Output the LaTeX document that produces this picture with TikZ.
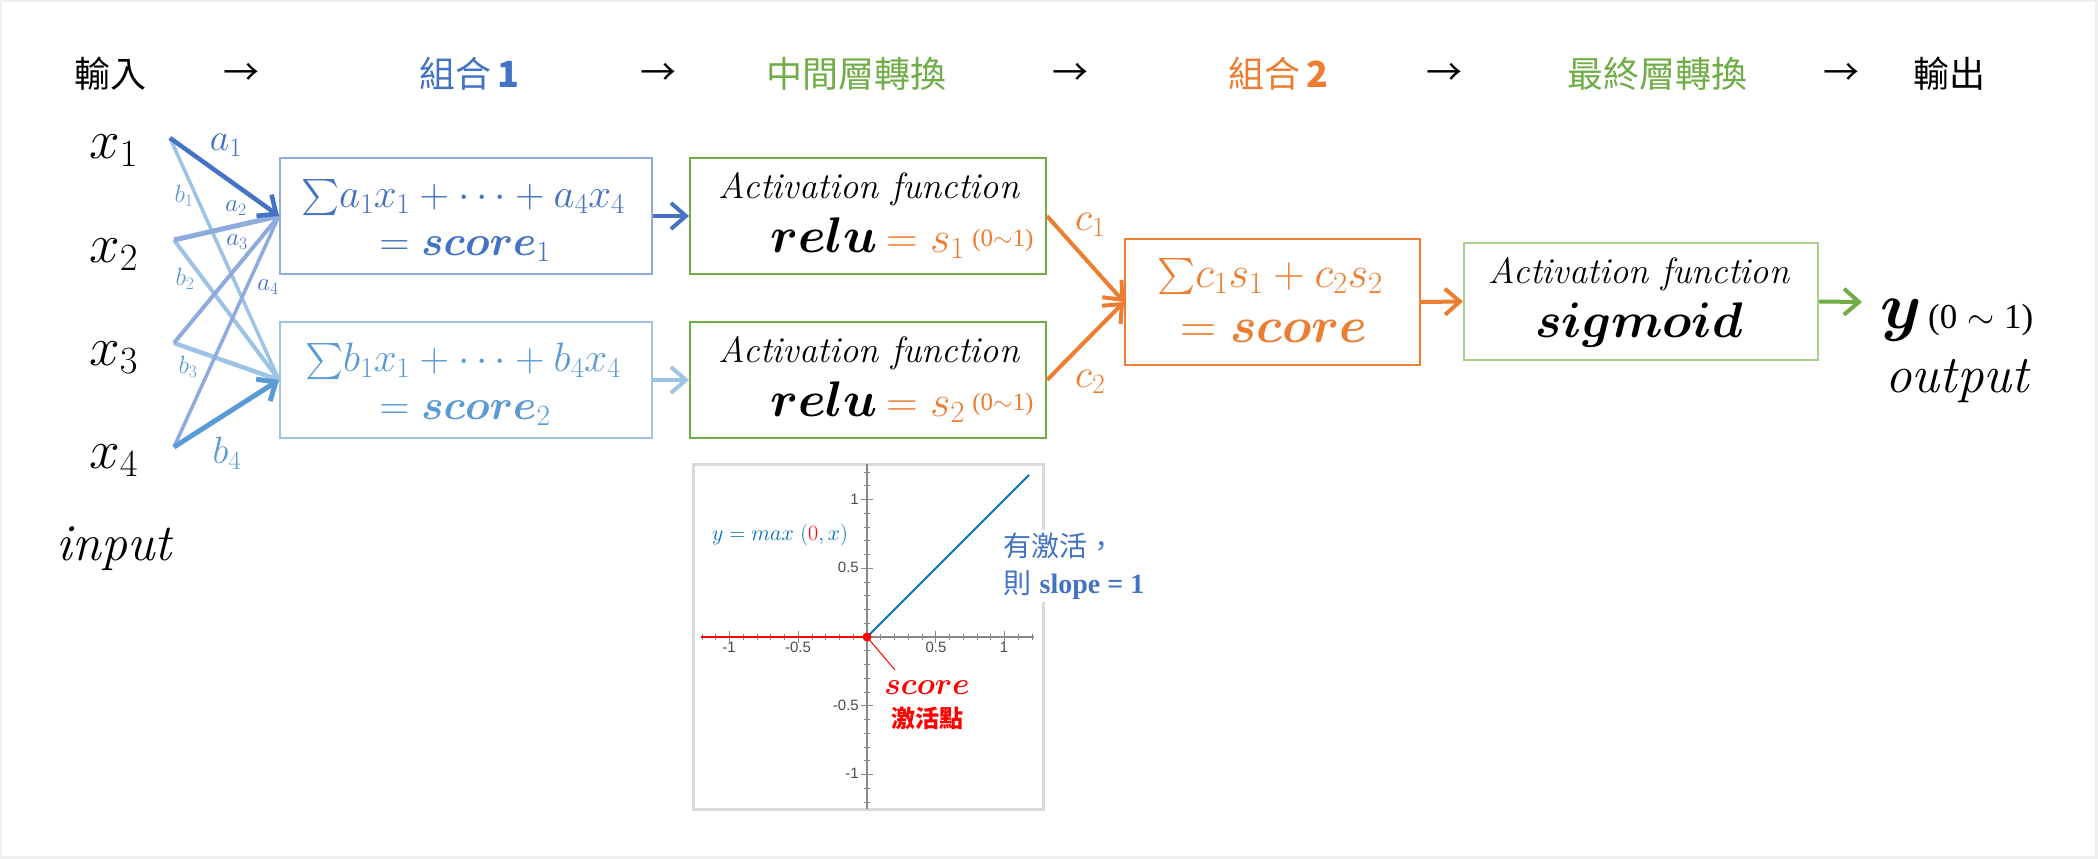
\RequirePackage{fix-cm}
\documentclass[tikz,border=0pt]{standalone}
\usepackage{fontspec}
\usepackage{amsmath}
\usepackage{bm}
\usepackage{graphicx}
\usetikzlibrary{arrows.meta}
\newfontfamily\cjk{Noto Sans CJK TC}
\newfontfamily\sansf{Liberation Sans}
\newfontfamily\serif{Liberation Serif}
\newcommand\fsz[1]{\fontsize{#1}{#1}\selectfont}
\newcommand\bigsum{\raisebox{-0.12em}{\scalebox{1.45}{$\sum$}}}
\definecolor{dblue}{HTML}{4472C4}
\definecolor{mblue}{HTML}{5B9BD5}
\definecolor{lblue}{HTML}{9DC3E6}
\definecolor{pblue}{HTML}{8FAADC}
\definecolor{cgreen}{HTML}{70AD47}
\definecolor{lgreen}{HTML}{A9D18E}
\definecolor{corange}{HTML}{ED7D31}
\definecolor{gblue}{HTML}{0070C0}
\definecolor{framegray}{HTML}{EFEFEF}
\definecolor{plotframe}{HTML}{D9D9D9}
\definecolor{axisc}{HTML}{888888}
\begin{document}
\begin{tikzpicture}[x=1pt,y=-1pt,
  bx/.style={draw,line width=2pt,inner sep=0pt},
  conn/.style={line width=4pt},
  tipv/.style={-{Straight Barb[length=15pt,width=26pt]}},
  lbl/.style={inner sep=0pt},
  hdr/.style={inner sep=0pt,font=\cjk\fsz{36}},
  tickl/.style={inner sep=0pt,font=\sansf\fsz{15},text=black!70},
  axisl/.style={draw=axisc,line width=1.5pt},
  tickm/.style={draw=axisc,line width=1pt},
]
\useasboundingbox (0,0) rectangle (2098,859);
\fill[framegray] (0,0) rectangle (2098,859);
\fill[white] (2,2) rectangle (2095,856);

% ---------- header ----------
\node[hdr] (h1) at (110,74) {輸入};
\node[hdr] (h2) at (241,74) {→};
\node[hdr,text=dblue] (h3) at (469,74) {組合\,\textbf{1}};
\node[hdr] (h4) at (658,74) {→};
\node[hdr,text=cgreen] (h5) at (856,74) {中間層轉換};
\node[hdr] (h6) at (1070,74) {→};
\node[hdr,text=corange] (h7) at (1278,74) {組合\,\textbf{2}};
\node[hdr] (h8) at (1444,74) {→};
\node[hdr,text=cgreen] (h9) at (1657,74) {最終層轉換};
\node[hdr] (h10) at (1841,74) {→};
\node[hdr] (h11) at (1949,74) {輸出};

% ---------- inputs ----------
\node[lbl,anchor=base west] (x1) at (89,158) {\fsz{55}$x_1$};
\node[lbl,anchor=base west] (x2) at (89,262) {\fsz{55}$x_2$};
\node[lbl,anchor=base west] (x3) at (89,365) {\fsz{55}$x_3$};
\node[lbl,anchor=base west] (x4) at (89,468) {\fsz{55}$x_4$};
\node[lbl] (inp) at (114,549) {\fsz{52}\itshape input};

\coordinate (s1) at (170,138);
\coordinate (s2) at (174,240);
\coordinate (s3) at (174,343);
\coordinate (s4) at (174,447);

% ---------- boxes ----------
\node[bx,draw=pblue,minimum width=372pt,minimum height=116pt] (cb1) at (466,216) {};
\node[bx,draw=lblue,minimum width=372pt,minimum height=116pt] (cb2) at (466,380) {};
\node[bx,draw=cgreen,minimum width=356pt,minimum height=116pt] (g1) at (868,216) {};
\node[bx,draw=cgreen,minimum width=356pt,minimum height=116pt] (g2) at (868,380) {};
\node[bx,draw=corange,minimum width=295pt,minimum height=126pt] (ob) at (1272.5,302) {};
\node[bx,draw=lgreen,minimum width=354pt,minimum height=117pt] (sg) at (1641,301.5) {};

% ---------- input connectors ----------
\draw[conn,lblue,line width=3.5pt] (s1) -- (cb2.west);
\draw[conn,lblue] (s2) -- (cb2.west);
\draw[conn,lblue,line width=4.5pt] (s3) -- (cb2.west);
\draw[conn,pblue,line width=5pt] (s2) -- (cb1.west);
\draw[conn,pblue] (s3) -- (cb1.west);
\draw[conn,pblue,line width=3.5pt] (s4) -- (cb1.west);
\draw[conn,dblue,line width=4.5pt,tipv] (s1) -- (cb1.west);
\draw[conn,mblue,line width=5pt,tipv] (s4) -- (cb2.west);

\node[lbl,text=dblue] (la1) at (226,145) {\fsz{38}$a_1$};
\node[lbl,text=mblue] (lb1) at (184,196) {\fsz{25}$b_1$};
\node[lbl,text=dblue] (la2) at (236,208) {\fsz{25}$a_2$};
\node[lbl,text=dblue] (la3) at (237,242) {\fsz{25}$a_3$};
\node[lbl,text=dblue] (la4) at (268,287) {\fsz{25}$a_4$};
\node[lbl,text=mblue] (lb2) at (185,279) {\fsz{25}$b_2$};
\node[lbl,text=mblue] (lb3) at (188,367) {\fsz{25}$b_3$};
\node[lbl,text=mblue] (lb4) at (227,453) {\fsz{38}$b_4$};

% ---------- box texts ----------
\node[lbl,anchor=base,text=dblue] (t1a) at (463,207) {\fsz{41}\bigsum$a_1x_1+\cdots+a_4x_4$};
\node[lbl,anchor=base,text=dblue] (t1b) at (465,255) {\fsz{42}$=\bm{score}_1$};
\node[lbl,anchor=base,text=mblue] (t2a) at (463,371) {\fsz{41}\bigsum$b_1x_1+\cdots+b_4x_4$};
\node[lbl,anchor=base,text=mblue] (t2b) at (465,419) {\fsz{42}$=\bm{score}_2$};

\node[lbl,anchor=base] (g1a) at (869,198) {\fsz{36.5}\itshape Activation function};
\node[lbl,anchor=base west] (g1b) at (770,252) {\fsz{50}$\bm{relu}$\,\textcolor{corange}{\fsz{44}$=s_1$\,\raisebox{6pt}{\serif\fsz{25}(0$\sim$1)}}};
\node[lbl,anchor=base] (g2a) at (869,362) {\fsz{36.5}\itshape Activation function};
\node[lbl,anchor=base west] (g2b) at (770,416) {\fsz{50}$\bm{relu}$\,\textcolor{corange}{\fsz{44}$=s_2$\,\raisebox{6pt}{\serif\fsz{25}(0$\sim$1)}}};

\node[lbl,anchor=base,text=corange] (oa) at (1270,287) {\fsz{44}\bigsum$c_1s_1+c_2s_2$};
\node[lbl,anchor=base,text=corange] (obt) at (1274,342) {\fsz{50}$=\bm{score}$};

\node[lbl,anchor=base] (sa) at (1639,283) {\fsz{36.5}\itshape Activation function};
\node[lbl,anchor=base] (sb) at (1639,337) {\fsz{50}$\bm{sigmoid}$};

% ---------- middle connectors ----------
\draw[conn,dblue,tipv] (cb1.east) -- (g1.west);
\draw[conn,lblue,tipv] (cb2.east) -- (g2.west);
\draw[conn,corange,tipv] (g1.east) -- (ob.west);
\draw[conn,corange,tipv] (g2.east) -- (ob.west);
\node[lbl,anchor=base west,text=corange] (lc1) at (1075,230) {\fsz{40}$c_1$};
\node[lbl,anchor=base west,text=corange] (lc2) at (1075,387) {\fsz{40}$c_2$};
\draw[conn,corange,tipv] (ob.east) -- (sg.west);
\coordinate (yin) at (1862,302);
\draw[conn,cgreen,tipv] (sg.east) -- (yin);

% ---------- output ----------
\node[lbl,anchor=base west] (yout) at (1880,328) {\fsz{66}$\bm{y}$};
\node[lbl,anchor=base west] (yrng) at (1928,328) {\serif\fsz{35}(0$\;\sim\;$1)};
\node[lbl,anchor=base] (outp) at (1957,392) {\fsz{53}\itshape output};

% ---------- relu plot ----------
\draw[plotframe,line width=3pt,fill=white] (693,464) rectangle (1043,809);
\coordinate (O) at (867,637);
\draw[axisl] (701,637) -- (1034,637);
\draw[axisl] (867,464) -- (867,809);
\foreach \i in {-12,...,12} {
  \draw[tickm] ({867+\i*13.75},634) -- ({867+\i*13.75},640);
  \draw[tickm] (864,{637+\i*13.75}) -- (870,{637+\i*13.75});
}
\foreach \i in {-10,-5,5,10} {
  \draw[tickm] ({867+\i*13.75},631) -- ({867+\i*13.75},643);
  \draw[tickm] (861,{637+\i*13.75}) -- (873,{637+\i*13.75});
}
\node[tickl,anchor=north] (tx1) at (729,642) {-1};
\node[tickl,anchor=north] (tx2) at (798,642) {-0.5};
\node[tickl,anchor=north] (tx3) at (936,642) {0.5};
\node[tickl,anchor=north] (tx4) at (1004,642) {1};
\node[tickl,anchor=east] (ty1) at (859,499) {1};
\node[tickl,anchor=east] (ty2) at (859,567) {0.5};
\node[tickl,anchor=east] (ty3) at (859,705) {-0.5};
\node[tickl,anchor=east] (ty4) at (859,773) {-1};
\coordinate (bend) at (1029,475);
\coordinate (rstart) at (701,637);
\draw[red,line width=2.5pt] (rstart) -- (O);
\draw[gblue,line width=2pt] (O) -- (bend);
\fill[red] (O) circle (4.5pt);
\node[lbl,text=gblue] (eq) at (780,535) {\fsz{22}$y=max\ (\textcolor{red}{0},x)$};
\node[lbl,text=red] (scl) at (927,688) {\fsz{31}$\bm{score}$};
\node[lbl,text=red] (jh) at (927,718) {\cjk\bfseries\fsz{24}激活點};
\coordinate (lnk) at (895,670);
\draw[red,line width=1pt] (O) -- (lnk);
\node[anchor=west,fill=white,inner sep=3pt,align=left,text=dblue,font=\fontsize{28}{37}\selectfont] (slope) at (1000,566)
  {{\cjk 有激活，}\\{\cjk 則}\ {\serif\bfseries slope = 1}};
\end{tikzpicture}
\end{document}
